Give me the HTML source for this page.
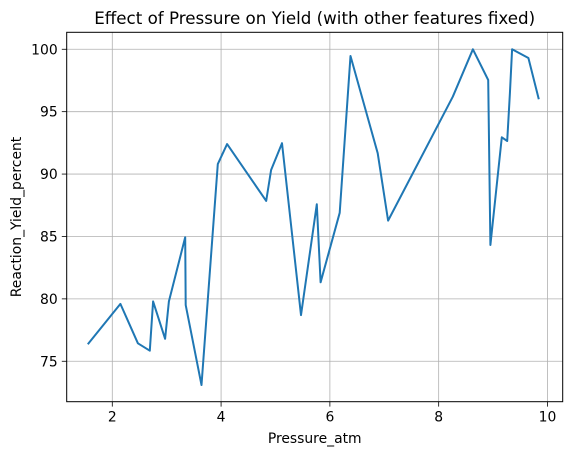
<!DOCTYPE html>
<html><head><meta charset="utf-8"><style>
body{margin:0;background:#fff;font-family:"Liberation Sans","DejaVu Sans",sans-serif;}
svg text{font-family:"DejaVu Sans","Liberation Sans",sans-serif;fill:#000}
</style></head><body>
<svg id="chart" width="571" height="455"></svg>
<script>
const pressure=[1.55,2.15,2.47,2.69,2.75,2.97,3.04,3.34,3.35,3.64,3.94,4.11,4.83,4.92,5.12,5.47,5.76,5.83,6.18,6.38,6.88,7.07,8.26,8.63,8.91,8.95,9.16,9.26,9.31,9.35,9.65,9.84];
const yieldPct=[76.36,79.6,76.44,75.85,79.8,76.8,79.8,84.93,79.5,73.1,90.8,92.4,87.85,90.33,92.47,78.7,87.58,81.33,86.9,99.46,91.67,86.27,96.2,100,97.54,84.32,92.95,92.65,96.47,100,99.3,96.0];
const xTicks=[2,4,6,8,10];
const yTicks=[75,80,85,90,95,100];
const L=66.7,R=562.7,T=32.3,B=401.7;
const xMin=1.162,xMax=10.28,yMin=71.76,yMax=101.36;
const sx=v=>L+(v-xMin)/(xMax-xMin)*(R-L);
const sy=v=>B-(v-yMin)/(yMax-yMin)*(B-T);
const svg=document.getElementById('chart');
const NS='http://www.w3.org/2000/svg';
function mk(t,a){const e=document.createElementNS(NS,t);for(const k in a)e.setAttribute(k,a[k]);svg.appendChild(e);return e;}
xTicks.forEach(v=>{const x=sx(v);
 const g=mk('line',{x1:x,x2:x,y1:T,y2:B,stroke:'#b0b0b0','stroke-width':0.8});
 
 
 const t=mk('line',{x1:x,x2:x,y1:B,y2:B+4.9,stroke:'#000','stroke-width':0.8});
 
 
 const l=mk('text',{x:x,y:B+20,'font-size':13.9,'text-anchor':'middle'});l.textContent=v;
 
 
});
yTicks.forEach(v=>{const y=sy(v);
 const g=mk('line',{x1:L,x2:R,y1:y,y2:y,stroke:'#b0b0b0','stroke-width':0.8});
 
 
 const t=mk('line',{x1:L-4.9,x2:L,y1:y,y2:y,stroke:'#000','stroke-width':0.8});
 
 
 const l=mk('text',{x:L-9,y:y+5,'font-size':13.9,'text-anchor':'end'});l.textContent=v;
 
 
});
const pts=pressure.map((p,i)=>sx(p).toFixed(1)+','+sy(yieldPct[i]).toFixed(1)).join(' ');
const line=mk('polyline',{points:pts,fill:'none',stroke:'#1f77b4','stroke-width':2,'stroke-linejoin':'round'});


const fr=mk('rect',{x:L,y:T,width:R-L,height:B-T,fill:'none',stroke:'#000','stroke-width':1});


const ti=mk('text',{x:(L+R)/2,y:24,'font-size':16.7,'text-anchor':'middle'});ti.textContent='Effect of Pressure on Yield (with other features fixed)';


const xl=mk('text',{x:(L+R)/2,y:443,'font-size':13.9,'text-anchor':'middle'});xl.textContent='Pressure_atm';


const yl=mk('text',{x:0,y:0,'font-size':13.9,'text-anchor':'middle',transform:`translate(21,${(T+B)/2}) rotate(-90)`});yl.textContent='Reaction_Yield_percent';


</script>
</body></html>
